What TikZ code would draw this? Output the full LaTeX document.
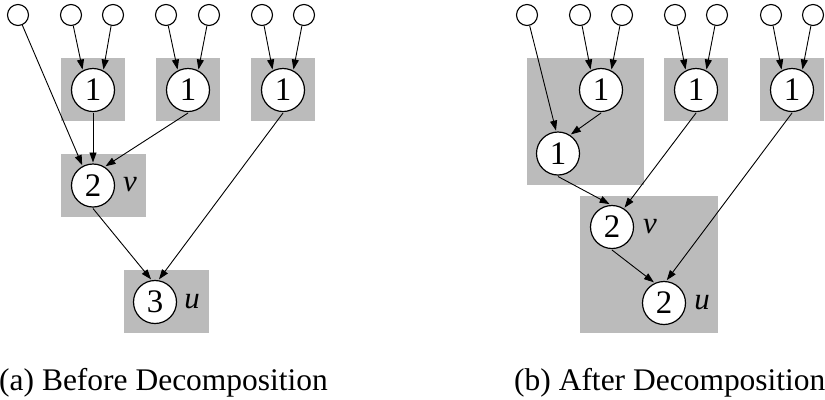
\documentclass[tikz,border=0pt]{standalone}
\usepackage{fontspec}
\setmainfont{Liberation Serif}
\usetikzlibrary{arrows.meta}
\definecolor{clustergray}{RGB}{187,187,187}
\tikzset{
  leaf/.style={circle, draw, line width=1.1bp, fill=white, minimum size=21bp, inner sep=0pt},
  vertex/.style={circle, draw, line width=1.2bp, fill=white, minimum size=43bp, inner sep=0pt,
                 outer sep=1.5bp, font=\fontsize{33}{33}\selectfont},
  tag/.style={font=\fontsize{31}{31}\selectfont\itshape, inner sep=0pt},
  caption/.style={font=\fontsize{31.6}{31.6}\selectfont, inner sep=0pt, anchor=base west},
  cluster/.style={fill=clustergray},
  edge/.style={line width=0.9bp, -{Triangle[length=10bp,width=7bp]}}
}
\begin{document}
\begin{tikzpicture}[x=1bp,y=-1bp]
\useasboundingbox (0,0) rectangle (825,399);

% ---------- (a) before decomposition ----------
\fill[cluster] (61,58) rectangle (125,121);
\fill[cluster] (156,58) rectangle (220,121);
\fill[cluster] (251,58) rectangle (315,121);
\fill[cluster] (61,154) rectangle (146,217);
\fill[cluster] (124,270) rectangle (209,333);

\node[leaf] (a1) at (18,15) {};
\node[leaf] (a2) at (71,15) {};
\node[leaf] (a3) at (113,15) {};
\node[leaf] (a4) at (166,15) {};
\node[leaf] (a5) at (209,15) {};
\node[leaf] (a6) at (262,15) {};
\node[leaf] (a7) at (304,15) {};

\node[vertex] (aA) at (93,90) {1};
\node[vertex] (aB) at (188,90) {1};
\node[vertex] (aC) at (283,90) {1};
\node[vertex] (av) at (93,185.5) {2};
\node[tag] (avl) at (130,185) {v};
\node[vertex] (au) at (155,302) {3};
\node[tag] (aul) at (192,302) {u};

\draw[edge] (a1) -- (av.118);
\draw[edge] (a2) -- (aA.117);
\draw[edge] (a3) -- (aA.63);
\draw[edge] (a4) -- (aB.117);
\draw[edge] (a5) -- (aB.63);
\draw[edge] (a6) -- (aC.117);
\draw[edge] (a7) -- (aC.63);
\draw[edge] (aA.south) -- (av.north);
\draw[edge] (aB.south) -- (av.57);
\draw[edge] (av.south) -- (au.100);
\draw[edge] (aC.south) -- (au.80);

\node[caption] (capa) at (-1,390) {(a) Before Decomposition};

% ---------- (b) after decomposition ----------
\fill[cluster] (527,58) rectangle (644,185);
\fill[cluster] (664,58) rectangle (728,121);
\fill[cluster] (760,58) rectangle (824,121);
\fill[cluster] (580,196) rectangle (718,333);

\node[leaf] (b1) at (527,15) {};
\node[leaf] (b2) at (580,15) {};
\node[leaf] (b3) at (622,15) {};
\node[leaf] (b4) at (675,15) {};
\node[leaf] (b5) at (717,15) {};
\node[leaf] (b6) at (771,15) {};
\node[leaf] (b7) at (813,15) {};

\node[vertex] (bA) at (601,90) {1};
\node[vertex] (bD) at (558,153.5) {1};
\node[vertex] (bB) at (696,90) {1};
\node[vertex] (bC) at (792,90) {1};
\node[vertex] (bv) at (612,227) {2};
\node[tag] (bvl) at (650,227) {v};
\node[vertex] (bu) at (664,303) {2};
\node[tag] (bul) at (702,303) {u};

\draw[edge] (b1) -- (bD.95);
\draw[edge] (b2) -- (bA.117);
\draw[edge] (b3) -- (bA.63);
\draw[edge] (bA.south) -- (bD.56);
\draw[edge] (b4) -- (bB.117);
\draw[edge] (b5) -- (bB.63);
\draw[edge] (b6) -- (bC.117);
\draw[edge] (b7) -- (bC.63);
\draw[edge] (bD.south) -- (bv.96);
\draw[edge] (bB.south) -- (bv.57);
\draw[edge] (bv.south) -- (bu.116);
\draw[edge] (bC.south) -- (bu.83);

\node[caption] (capb) at (514,390) {(b) After Decomposition};
\end{tikzpicture}
\end{document}
